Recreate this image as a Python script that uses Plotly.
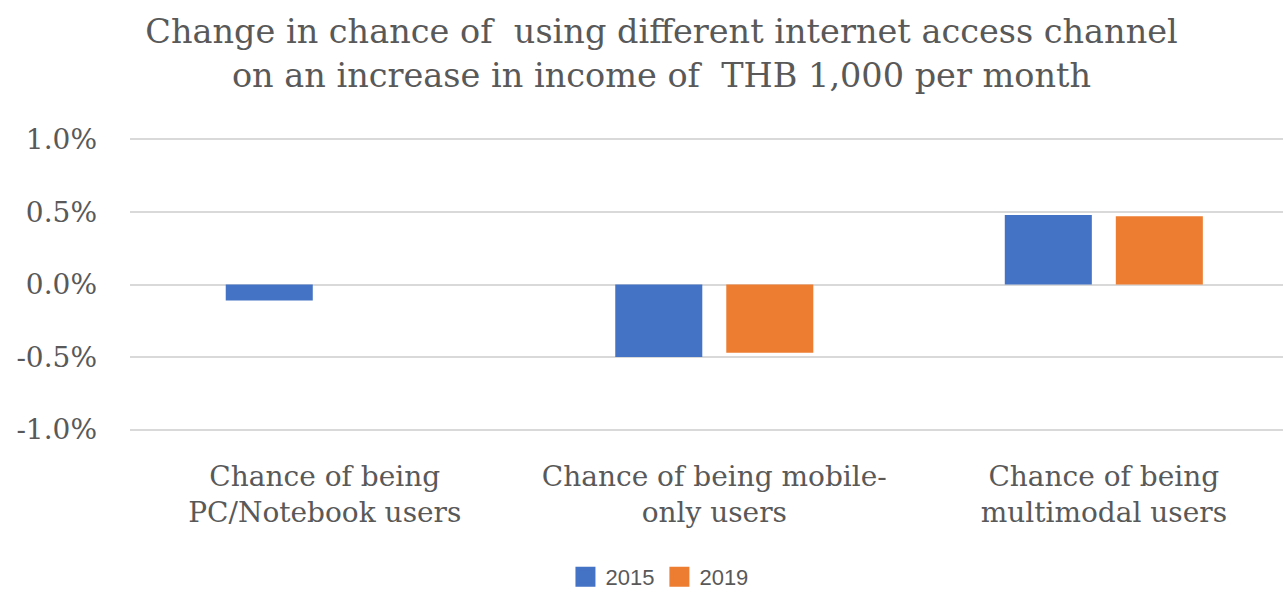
import plotly.graph_objects as go

categories = [
    "Chance of being<br>PC/Notebook users",
    "Chance of being mobile-<br>only users",
    "Chance of being<br>multimodal users",
]
series_names = ["2015", "2019"]
values_2015 = [-0.11, -0.50, 0.48]
values_2019 = [None, -0.47, 0.47]
series_colors = ["#4472C4", "#ED7D31"]
y_ticks = [-1.0, -0.5, 0.0, 0.5, 1.0]
y_tick_text = ["-1.0%", "-0.5%", "0.0%", "0.5%", "1.0%"]

SERIF = "DejaVu Serif, Liberation Serif, serif"
SANS = "Liberation Sans, Arial, sans-serif"
GRAY = "#595959"

fig = go.Figure()
for name, vals, color in zip(series_names, [values_2015, values_2019], series_colors):
    fig.add_trace(go.Bar(name=name, x=categories, y=vals, showlegend=False,
                         marker=dict(color=color, line=dict(width=0))))
    # square swatch for the legend entry
    fig.add_trace(go.Scatter(name=name, x=[None], y=[None], mode="markers",
                             marker=dict(symbol="square", size=16, color=color,
                                         line=dict(width=4, color=color))))

fig.update_layout(
    width=1283, height=589,
    margin=dict(l=130, r=0, t=138, b=158, autoexpand=False),
    paper_bgcolor="white", plot_bgcolor="white",
    barmode="group", bargap=0.43, bargroupgap=0.216,
    title=dict(
        text="Change in chance of  using different internet access channel<br>on an increase in income of  THB 1,000 per month",
        font=dict(family=SERIF, size=33.5, color=GRAY),
        x=0.5156, xanchor="center", xref="container",
        y=1 - 43 / 589, yanchor="top", yref="container",
    ),
    legend=dict(
        orientation="h", x=0.514, xanchor="center", xref="container",
        y=1 - 577 / 589, yanchor="middle", yref="container",
        font=dict(family=SANS, size=22, color=GRAY),
        itemsizing="trace",
    ),
    font=dict(family=SERIF, color=GRAY),
)

fig.update_xaxes(
    range=[-0.5, 2.46], showgrid=False, showline=False, zeroline=False,
    tickfont=dict(family=SERIF, size=28, color=GRAY), ticks="",
    ticklabelstandoff=26,
)
fig.update_yaxes(
    range=[-1.01, 1.01], tickvals=y_ticks, ticktext=y_tick_text,
    showgrid=True, gridcolor="#D9D9D9", gridwidth=1.5,
    zeroline=True, zerolinecolor="#D9D9D9", zerolinewidth=1.5,
    showline=False, ticks="",
    tickfont=dict(family=SERIF, size=28, color=GRAY),
    ticklabelstandoff=32,
)

fig.write_html("out.html")
